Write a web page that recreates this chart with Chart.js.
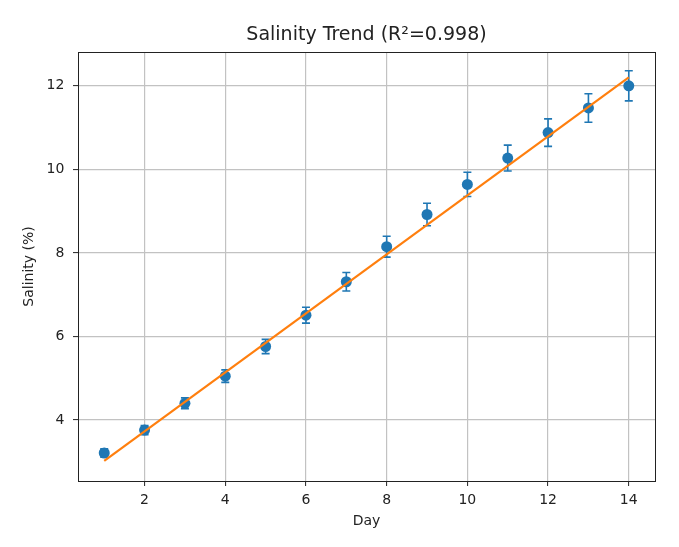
<!DOCTYPE html>
<html><head><meta charset="utf-8">
<script src="https://cdn.jsdelivr.net/npm/chart.js@4/dist/chart.umd.min.js"></script>
<style>html,body{margin:0;padding:0;background:#fff}#wrap{width:679px;height:547px;position:relative}</style>
</head><body><div id="wrap"><canvas id="c"></canvas></div>
<script>
const days = [1,2,3,4,5,6,7,8,9,10,11,12,13,14];
const salinity = [3.21,3.76,4.40,5.05,5.76,6.51,7.31,8.15,8.92,9.64,10.27,10.88,11.47,12.00];
const salinityErr = [0.10,0.11,0.13,0.15,0.17,0.19,0.22,0.25,0.27,0.29,0.31,0.33,0.34,0.36];
const fitDays = [1,14];
const fitValues = [3.02,12.2];
const xTicks = [2,4,6,8,10,12,14];
const yTicks = [4,6,8,10,12];
const titleText = 'Salinity Trend (R²=0.998)';
const xLabel = 'Day';
const yLabel = 'Salinity (%)';

const FONT = "'DejaVu Sans', sans-serif";
const BLUE = '#1f77b4', ORANGE = '#ff7f0e', TEXT = '#222';

const errPlugin = {
  id: 'errbars',
  beforeDatasetsDraw(chart) {
    const {ctx, scales: {x, y}} = chart;
    ctx.save();
    ctx.strokeStyle = BLUE;
    ctx.lineWidth = 1.6;
    days.forEach((d, i) => {
      const px = x.getPixelForValue(d);
      const top = y.getPixelForValue(salinity[i] + salinityErr[i]);
      const bot = y.getPixelForValue(salinity[i] - salinityErr[i]);
      ctx.beginPath();
      ctx.moveTo(px, top); ctx.lineTo(px, bot);
      ctx.moveTo(px - 4, top); ctx.lineTo(px + 4, top);
      ctx.moveTo(px - 4, bot); ctx.lineTo(px + 4, bot);
      ctx.stroke();
    });
    ctx.restore();
  },
  afterDraw(chart) {
    const {ctx, chartArea: a} = chart;
    ctx.save();
    ctx.strokeStyle = TEXT;
    ctx.lineWidth = 1;
    ctx.strokeRect(Math.round(a.left) + 0.5, Math.round(a.top) + 0.5, Math.round(a.right - a.left), Math.round(a.bottom - a.top));
    ctx.restore();
  }
};

new Chart(document.getElementById('c'), {
  type: 'scatter',
  data: {
    datasets: [
      {
        label: 'fit',
        data: fitDays.map((d, i) => ({x: d, y: fitValues[i]})),
        showLine: true,
        borderColor: ORANGE,
        borderWidth: 2.2,
        pointRadius: 0,
        order: 1
      },
      {
        label: 'data',
        data: days.map((d, i) => ({x: d, y: salinity[i]})),
        backgroundColor: BLUE,
        borderColor: BLUE,
        pointRadius: 5.5,
        borderWidth: 0,
        order: 2
      }
    ]
  },
  options: {
    responsive: true,
    maintainAspectRatio: false,
    animation: false,
    devicePixelRatio: 1,
    layout: {padding: {left: 0, right: 24, top: 0, bottom: 0}},
    plugins: {
      legend: {display: false},
      tooltip: {enabled: false},
      title: {
        display: true,
        fullSize: false,
        text: titleText,
        color: TEXT,
        font: {family: FONT, size: 19, weight: 'normal'},
        padding: {top: 23.6, bottom: 5.6}
      }
    },
    scales: {
      x: {
        type: 'linear',
        min: 0.35, max: 14.65,
        afterFit: s => { s.height = 66; },
        afterBuildTicks: s => { s.ticks = xTicks.map(v => ({value: v})); },
        ticks: {color: TEXT, font: {family: FONT, size: 14}, padding: 5.6, callback: v => v},
        grid: {color: '#c2c2c2', lineWidth: 1.2, tickLength: 5, tickColor: TEXT, tickWidth: 1},
        border: {display: true, color: TEXT, width: 1},
        title: {display: true, text: xLabel, color: TEXT, font: {family: FONT, size: 14}, padding: {top: 0, bottom: 17.6}}
      },
      y: {
        type: 'linear',
        min: 2.54, max: 12.81,
        afterFit: s => { s.width = 78; },
        afterBuildTicks: s => { s.ticks = yTicks.map(v => ({value: v})); },
        ticks: {color: TEXT, font: {family: FONT, size: 14}, padding: 8.7, callback: v => v},
        grid: {color: '#c2c2c2', lineWidth: 1.2, tickLength: 5, tickColor: TEXT, tickWidth: 1},
        border: {display: true, color: TEXT, width: 1},
        title: {display: true, text: yLabel, color: TEXT, font: {family: FONT, size: 14}, padding: {top: 21, bottom: 0}}
      }
    }
  },
  plugins: [errPlugin]
});
</script>
</body></html>
